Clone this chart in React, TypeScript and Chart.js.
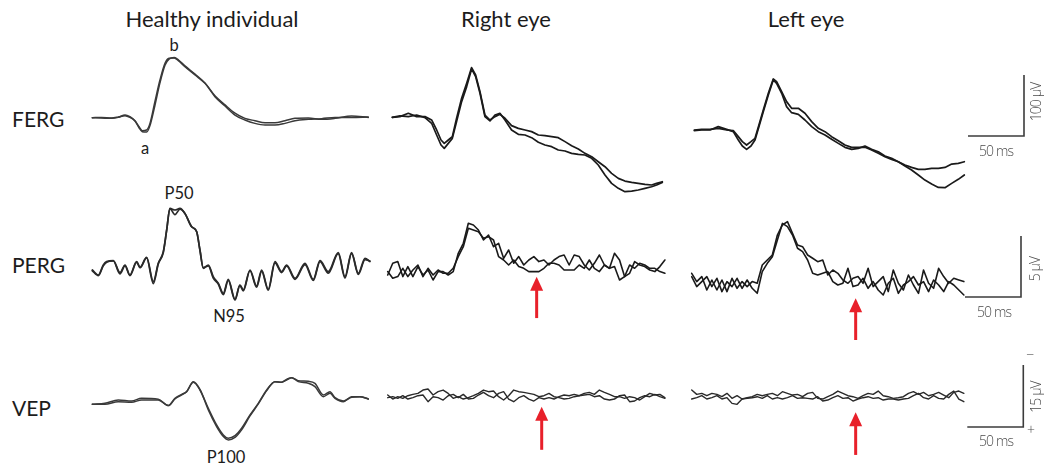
import React, { useEffect, useRef } from "react";
import { Chart, registerables } from "chart.js";
Chart.register(...registerables);

// ---------------- DATA (time in ms, amplitude in µV) ----------------
// FERG, healthy individual
const fergHealthyT = [0, 8.3, 17.3, 23.2, 29.2, 33.6, 38.1, 41.7, 44.6, 48.5, 51.5, 55.9, 60.4, 64.9, 68.5, 73.2, 76.8, 82.7, 91.7, 100.6, 109.5, 118.5, 127.4, 136.3, 145.2, 154.2, 163.1, 172, 181, 192.9, 204.8, 216.7, 231.5, 246.4];
const fergHealthyA = [0, -0.5, -1.1, 0.5, 4.4, 1.6, -4.9, -14.8, -21.3, -20.2, -9.3, 26.3, 61.8, 89.2, 97.4, 97.9, 93.5, 83.7, 70, 56.3, 34.5, 19.1, 4.4, -3.8, -9.3, -12, -12, -9.3, -4.9, -2.7, -1.6, 0.5, 0.5, 1.1];
const fergHealthyB = [0, 0.5, -0.5, 1.1, 3.3, 0.5, -5.5, -16.4, -23, -23.5, -13, 20, 57, 86, 96, 98.5, 95, 85, 71.5, 57, 36, 21, 7.5, -1.1, -4.9, -8.2, -8.2, -4.9, -1.1, -0.5, -2.7, -1.1, 2.7, 0.5];

// FERG, right eye
const fergRightT = [0, 6.8, 14.3, 21.7, 29.2, 35.1, 39.6, 43.5, 46.4, 50, 53.6, 57.4, 61.9, 66.4, 70.8, 74.4, 78.3, 82.7, 87.2, 91.7, 96.1, 100.6, 106.5, 112.5, 118.5, 124.4, 130.4, 136.3, 142.3, 148.2, 154.2, 160.1, 166.1, 172, 178, 183.9, 189.9, 195.8, 201.8, 207.7, 213.7, 219.6, 225.6, 231.5, 236, 241.1];
const fergRightA = [0, 1.1, 6.6, 1.1, 1.1, -4.4, -20.8, -37.2, -42.7, -37.2, -31.7, -1.6, 31.2, 55.8, 81.5, 69.4, 42.1, 3.8, -4.4, 1.1, 4.9, -1.6, -13.7, -18.1, -20.8, -23.5, -29, -30.1, -31.7, -33.4, -39.9, -46.5, -51.9, -59.1, -64.5, -72.8, -81, -91.9, -100.1, -104.5, -106.7, -108.3, -110, -111, -108.3, -105.6];
const fergRightB = [0, 2.2, 1.1, 3.8, -0.5, -9.8, -29, -45.4, -50.9, -42.7, -34.5, -7.1, 25.7, 50.3, 79.3, 66.7, 39.4, 1.1, -6, 3.8, 6.6, -4.4, -20.8, -27.9, -29, -33.4, -41, -45.4, -48.1, -53.6, -55.2, -59.1, -60.7, -61.8, -67.3, -78.2, -94.6, -108.3, -116.5, -122, -120.9, -119.2, -116.5, -113.8, -111, -106.7];

// FERG, left eye
const fergLeftT = [0, 6.5, 14, 21.4, 28.9, 34.8, 39.3, 42.9, 46.7, 50.6, 54.2, 57.7, 61.6, 66.1, 70.5, 73.5, 78, 82.4, 86.9, 92.9, 98.8, 104.8, 110.7, 116.7, 122.6, 128.6, 134.5, 140.5, 146.4, 152.4, 158.3, 164.3, 170.2, 176.2, 182.1, 188.1, 194, 200, 205.9, 211.9, 217.9, 223.8, 229.8, 235.7, 241.1];
const fergLeftA = [0, 1.1, 1.1, 2.7, 0, -1.1, -10.9, -19.1, -24.6, -19.1, -13.7, 8.2, 32.8, 60.2, 83.7, 79.3, 62.9, 46.5, 35.6, 35.6, 27.4, 13.7, 2.7, -2.7, -10.9, -17.5, -24.6, -28.4, -28.4, -28.4, -32.8, -38.3, -43.8, -48.1, -52, -57.4, -61.3, -64.5, -64.5, -62.9, -62.9, -61.3, -55.8, -54.7, -52];
const fergLeftB = [-1.1, 0, 0, 5.5, 1.1, -2.7, -16.4, -26.3, -31.7, -26.3, -16.4, 5.5, 30.1, 57.4, 82.1, 76.6, 60.2, 38.3, 28.4, 25.7, 16.4, 5.5, -2.7, -8.2, -15.3, -21.9, -28.4, -31.7, -30.1, -26.3, -31.7, -35.6, -42.7, -46.5, -52, -59.1, -65.6, -73.8, -82.1, -88.6, -94.1, -94.6, -87.5, -80.9, -73.8];

// PERG, healthy individual
const pergHealthyT = [0, 5.4, 9.8, 12.8, 18.8, 24.7, 29.2, 33.6, 39.6, 42.6, 48.5, 54.5, 58.9, 63.4, 66.4, 69.3, 73.8, 78.3, 82.7, 88.7, 93.2, 96.1, 99.1, 103.6, 108, 112.5, 117, 121.4, 127.4, 131.8, 134.8, 140.8, 146.7, 151.2, 157.1, 163.1, 169, 173.5, 181, 189.9, 197.3, 203.3, 210.7, 219.6, 225.6, 231.5, 237.5, 243.5, 247.9];
const pergHealthyA = [-0.14, -0.55, 0.27, 0.55, 0.63, -0.35, 0.27, -0.55, 0.55, 0.08, 0.9, -1.09, 0.41, 1.37, 3.14, 4.91, 4.78, 4.91, 4.5, 3.41, 3.0, 1.5, 0, 0.27, -0.68, -1.23, -2.05, -0.9, -2.54, -1.37, -1.77, -0.14, -1.45, -0.14, -1.72, 0.55, -0.27, 0.27, -0.82, 0.41, -0.9, 0.63, -0.27, 1.28, -0.68, 1.28, -0.41, 0.82, 0.55];
const pergHealthyB = [-0.2, -0.6, 0.2, 0.5, 0.6, -0.45, 0.2, -0.6, 0.5, 0.05, 0.85, -1.25, 0.35, 1.3, 3.1, 4.9, 4.4, 4.85, 4.5, 3.4, 3.0, 1.5, 0.05, 0.2, -0.8, -1.3, -2.15, -1.0, -2.6, -1.4, -1.85, -0.2, -1.55, -0.25, -1.8, 0.45, -0.35, 0.2, -0.9, 0.3, -1.0, 0.55, -0.4, 1.2, -0.8, 1.2, -0.5, 0.7, 0.6];

// sampling times shared by the noisy patient recordings
const noisyT = [0, 4.5, 9, 13.5, 18, 22.5, 27, 31.5, 36, 40.5, 45, 49.5, 54, 58.5, 63, 67.5, 72, 76.5, 81, 85.5, 90, 94.5, 99, 103.5, 108, 112.5, 117, 121.5, 126, 130.5, 135, 139.5, 144, 148.5, 153, 157.5, 162, 166.5, 171, 175.5, 180, 184.5, 189, 193.5, 198, 202.5, 207, 211.5, 216, 220.5, 225, 229.5, 234, 238.5, 243, 247.5];

// PERG, right eye
const pergRightA = [-0.14, 0.82, 0.96, -0.27, 0.55, -0.27, 0.55, -0.14, 0.27, -0.55, 0.14, 0.14, -0.14, 0.14, 1.64, 2.46, 4.1, 3.96, 3.55, 2.73, 3.14, 2.18, 2.46, 1.23, 1.91, 0.82, 1.37, 0.68, 1.09, 1.37, 0.96, 1.09, 0.68, 1.09, 1.37, 1.5, 0.68, 1.5, 1.37, 0.68, 0.27, 0.82, 1.5, 0.68, 0.41, 1.64, 1.09, -0.27, 0, 0.96, 0.68, 0.55, 0.27, 0.14, 0.55, 1.09];
const pergRightB = [0.14, -0.41, -0.27, 0.41, -0.27, 0.27, 0.68, -0.27, 0.41, -0.14, 0.27, 0, 0, 0.41, 1.37, 2.18, 3.69, 3.55, 3.41, 2.87, 3.0, 2.73, 1.37, 1.09, 0.68, 1.09, 0.55, 0.41, 0.14, 0.14, 0.14, 0.41, 0.82, 0.82, 0.68, 0.27, 0.27, 0.27, 0.68, 0.41, 1.09, 0.41, 0.14, 0.68, 0.41, 0.55, -0.55, -0.27, 0.68, 0.41, 0.82, 0.68, 0.41, 0.41, 0.14, 0];

// PERG, left eye
const pergLeftA = [0.82, 0.14, 0.55, -0.55, 0.27, -0.55, 0.27, -0.68, 0.41, -0.41, 0.14, -0.27, 0.14, 0, 1.5, 1.91, 2.32, 3.96, 4.78, 5.05, 4.1, 3.14, 3.0, 2.32, 2.05, 1.77, 1.91, 0.68, 1.09, 0.82, 0.27, 0, 0.41, 0.55, 0, 1.23, -0.27, 0.14, 0.55, -0.68, 1.09, 0, -0.55, 0.68, -0.14, -0.82, 1.09, 0, -0.41, 1.23, 0.55, 0, 0.41, 0.27, 0.14];
const pergLeftB = [0.55, -0.27, 0.14, 0.55, -0.27, 0.41, -0.68, 0.14, -0.27, 0.41, -0.41, 0.27, -0.41, -0.82, 0.96, 1.64, 2.18, 3.55, 4.91, 4.64, 3.96, 2.87, 2.59, 1.91, 0.82, 0.68, 0.82, 0.96, 0.14, -0.14, 0, 1.23, -0.27, -0.14, 0.41, -0.41, 0.14, -0.55, -0.96, 0, 0.41, -0.82, -0.14, 0.14, 0.55, -0.14, 0.14, -0.68, 0.27, -0.14, -0.68, 0.14, -0.14, -0.55, -0.96];

// VEP, healthy individual (positive plotted downward)
const vepHealthyT = [0, 11.3, 23.2, 35.1, 44, 58.9, 67.9, 73.8, 79.8, 84.2, 90.2, 96.1, 103.6, 111, 117, 121.4, 127.4, 133.3, 140.8, 148.2, 155.7, 163.1, 169, 173.5, 178, 183.9, 192.9, 198.8, 206.3, 212.2, 216.7, 224.1, 231.5, 239, 246.4];
const vepHealthyA = [0.24, 0, -0.81, -0.56, -1.21, -0.97, 0.56, -1.21, -2.18, -2.82, -5.08, -3.22, 1.21, 5.24, 7.66, 8.46, 7.82, 6.05, 2.82, 0, -3.22, -5.24, -5.08, -5.64, -6.21, -5.24, -4.84, -4.03, -1.61, -2.42, -1.21, -0.4, -1.61, -1.61, -1.05];
const vepHealthyB = [0.24, 0.24, -0.4, -0.24, -0.81, -0.81, 0.56, -1.05, -2.02, -2.82, -5.24, -3.38, 1.61, 5.64, 8.06, 8.87, 8.27, 6.45, 3.06, 0.16, -3.06, -5.24, -5.08, -5.8, -6.21, -5.48, -5.32, -4.84, -2.02, -2.82, -1.37, -0.56, -1.45, -1.61, -1.05];

// VEP, right eye
const vepRightA = [-0.16, 0.81, 0.24, 0.64, 0, -0.32, -0.56, -1.37, -1.61, -0.16, -0.97, -1.37, -0.56, 0.64, 0.24, 0.81, 0.48, 0, -0.56, -1.37, -0.97, -1.13, 0.24, 1.05, 0, -1.37, -0.97, -0.81, -0.56, -0.32, 0.24, 0, -0.56, 0.24, 0.48, 0.81, 0.64, 0.24, 0, -0.56, -0.81, -0.32, -1.37, -0.81, -0.32, 0.24, 0.24, 0.64, 0.24, 0.48, 1.05, 0.24, -0.56, -0.16, -0.32, 0.48];
const vepRightB = [0.48, 0.24, 0.64, 0, 0.81, 0.48, 0, -0.16, 1.45, 0.24, 0.48, 1.05, 0, -0.32, 0.48, -0.32, 0.81, 0.64, -0.16, -0.81, 0, 0.48, -0.56, -0.97, 0.81, 1.45, 0.48, 0, 0.81, 1.29, 0.48, 0.81, 0.48, 0.81, 0.24, -0.16, 0, -0.32, 0, -0.16, -0.32, 0.24, 0, 0.81, 1.05, 0.81, 0, -0.16, 1.45, 1.29, 0.48, 0, 0.24, -0.32, 0.24, 0.64];

// VEP, left eye
const vepLeftA = [-1.61, -0.56, -0.81, -0.24, -0.81, -0.56, 0, -0.81, 0.4, -0.24, 0.56, 0.24, 0, -0.56, -0.24, -0.56, -0.81, -0.24, -1.21, -0.81, -0.4, -0.56, 0, -0.81, -1.05, 0.4, 0.56, 0, -0.56, -1.37, -0.81, -0.24, 0, 0.4, -0.24, -0.81, -0.56, -1.37, -0.24, 0, 0.4, 0.24, 0, -0.81, -1.21, -0.56, -1.05, -0.24, -0.56, -1.05, -0.4, 0.24, -1.05, -1.37, -0.81];
const vepLeftB = [0.56, 0.24, -0.24, 0.56, 0.24, -0.24, 0.56, 0.24, 1.61, 1.85, 0.56, 0.4, 0.24, 0, 0.4, -0.24, 0.56, 0.24, 0.56, 0.24, -0.24, 0.4, 0.24, 0.4, 0.56, 0, 1.05, 0.81, 0.24, -0.24, 0.4, 0.24, 1.05, 0.56, 0.24, 0, 0.4, 0.24, 0.81, 0.56, 0.56, 0.81, 0.56, 0.4, -0.24, -0.81, 0.24, 0.56, -0.24, 0.4, 0.56, -0.56, -1.37, 0.56, 1.21];

// scale bars: [start, corner, end]
const scaleBarMs = [0, 50, 50];
const fergBarUv = [0, 0, 100];
const pergBarUv = [0, 0, 5];
const vepBarUv = [0, 0, 15];

// red arrows (time ms, tip µV, tail µV)
const arrowTimes = [133, 146.4, 137.5, 146.4];
const arrowTips = [-0.28, -1.23, 2.66, 3.78];
const arrowTails = [-3.67, -4.65, 13.1, 14.1];

// ---------------- LAYOUT ----------------
const PX_PER_MS = 1.12;
const FERG_PPU = 0.61; // px per µV
const PERG_PPU = 12.2;
const VEP_PPU = 4.13;

type Arrow = { t: number; tip: number; tail: number };
type PanelSpec = {
  left: number; base: number; ppu: number; reverse?: boolean;
  yMin: number; yMax: number;
  t: number[]; a: number[]; b: number[];
  smooth: boolean; color: string; width: number;
  arrow?: Arrow;
};

const arrowAt = (i: number): Arrow => ({ t: arrowTimes[i], tip: arrowTips[i], tail: arrowTails[i] });

const panels: PanelSpec[] = [
  { left: 92.3, base: 117.7, ppu: FERG_PPU, yMin: -30, yMax: 105, t: fergHealthyT, a: fergHealthyA, b: fergHealthyB, smooth: true, color: "#3a3a3a", width: 1.5 },
  { left: 392.3, base: 117.3, ppu: FERG_PPU, yMin: -125, yMax: 90, t: fergRightT, a: fergRightA, b: fergRightB, smooth: false, color: "#1a1a1a", width: 1.7 },
  { left: 694.3, base: 130, ppu: FERG_PPU, yMin: -100, yMax: 90, t: fergLeftT, a: fergLeftA, b: fergLeftB, smooth: false, color: "#1a1a1a", width: 1.7 },
  { left: 92.3, base: 268.3, ppu: PERG_PPU, yMin: -3, yMax: 5.5, t: pergHealthyT, a: pergHealthyA, b: pergHealthyB, smooth: true, color: "#2a2a2a", width: 1.7 },
  { left: 387.7, base: 273.3, ppu: PERG_PPU, yMin: -4, yMax: 4.6, t: noisyT, a: pergRightA, b: pergRightB, smooth: false, color: "#1a1a1a", width: 1.6, arrow: arrowAt(0) },
  { left: 691.7, base: 283.3, ppu: PERG_PPU, yMin: -5, yMax: 5.5, t: noisyT, a: pergLeftA, b: pergLeftB, smooth: false, color: "#1a1a1a", width: 1.6, arrow: arrowAt(1) },
  { left: 92.3, base: 403.3, ppu: VEP_PPU, reverse: true, yMin: -7, yMax: 10, t: vepHealthyT, a: vepHealthyA, b: vepHealthyB, smooth: true, color: "#3a3a3a", width: 1.5 },
  { left: 387.7, base: 395.7, ppu: VEP_PPU, reverse: true, yMin: -3, yMax: 15, t: noisyT, a: vepRightA, b: vepRightB, smooth: false, color: "#2a2a2a", width: 1.4, arrow: arrowAt(2) },
  { left: 691.7, base: 396.7, ppu: VEP_PPU, reverse: true, yMin: -3, yMax: 15, t: noisyT, a: vepLeftA, b: vepLeftB, smooth: false, color: "#2a2a2a", width: 1.4, arrow: arrowAt(3) },
];

type BarSpec = { cornerX: number; cornerY: number; ppu: number; values: number[] };
const bars: BarSpec[] = [
  { cornerX: 1024, cornerY: 136, ppu: FERG_PPU, values: fergBarUv },
  { cornerX: 1021, cornerY: 297, ppu: PERG_PPU, values: pergBarUv },
  { cornerX: 1023.3, cornerY: 427, ppu: VEP_PPU, values: vepBarUv },
];

const X_MIN_MS = -6;
const CANVAS_W = 296;

function TracePanel({ spec }: { spec: PanelSpec }) {
  const ref = useRef<HTMLCanvasElement>(null);
  const canvasLeft = Math.round(spec.left + X_MIN_MS * PX_PER_MS);
  const xMin = (canvasLeft - spec.left) / PX_PER_MS;
  const xMax = xMin + CANVAS_W / PX_PER_MS;
  const h = Math.ceil((spec.yMax - spec.yMin) * spec.ppu);
  let top: number, yLo: number, yHi: number;
  if (spec.reverse) {
    top = Math.round(spec.base + spec.yMin * spec.ppu);
    yLo = (top - spec.base) / spec.ppu;
    yHi = yLo + h / spec.ppu;
  } else {
    top = Math.round(spec.base - spec.yMax * spec.ppu);
    yHi = (spec.base - top) / spec.ppu;
    yLo = yHi - h / spec.ppu;
  }

  useEffect(() => {
    if (!ref.current) return;
    const arrow = spec.arrow;
    const arrowPlugin = {
      id: "redArrow",
      afterDatasetsDraw(chart: any) {
        if (!arrow) return;
        const ctx = chart.ctx as CanvasRenderingContext2D;
        const x = chart.scales.x.getPixelForValue(arrow.t);
        const yTip = chart.scales.y.getPixelForValue(arrow.tip);
        const yTail = chart.scales.y.getPixelForValue(arrow.tail);
        const dir = Math.sign(yTail - yTip);
        const headLen = 14;
        const half = 6.5;
        ctx.save();
        ctx.strokeStyle = "#e8202a";
        ctx.fillStyle = "#e8202a";
        ctx.lineWidth = 3;
        ctx.beginPath();
        ctx.moveTo(x, yTail);
        ctx.lineTo(x, yTip + dir * headLen * 0.8);
        ctx.stroke();
        ctx.beginPath();
        ctx.moveTo(x, yTip);
        ctx.lineTo(x - half, yTip + dir * headLen);
        ctx.lineTo(x + half, yTip + dir * headLen);
        ctx.closePath();
        ctx.fill();
        ctx.restore();
      },
    };
    const mk = (vals: number[]) => ({
      data: vals.map((y, i) => ({ x: spec.t[i], y })),
      borderColor: spec.color,
      borderWidth: spec.width,
      pointRadius: 0,
      fill: false,
      tension: spec.smooth ? 0.4 : 0,
      cubicInterpolationMode: spec.smooth ? ("monotone" as const) : ("default" as const),
      borderJoinStyle: "round" as const,
      borderCapStyle: "round" as const,
      clip: false as any,
    });
    const chart = new Chart(ref.current, {
      type: "line",
      data: { datasets: [mk(spec.a), mk(spec.b)] },
      options: {
        animation: false,
        responsive: false,
        maintainAspectRatio: false,
        events: [],
        layout: { padding: 0 },
        plugins: { legend: { display: false }, tooltip: { enabled: false } },
        scales: {
          x: { type: "linear", min: xMin, max: xMax, display: false },
          y: { type: "linear", min: yLo, max: yHi, reverse: !!spec.reverse, display: false },
        },
      },
      plugins: [arrowPlugin],
    });
    return () => chart.destroy();
  }, []);

  return (
    <canvas
      ref={ref}
      width={CANVAS_W}
      height={h}
      style={{ position: "absolute", left: canvasLeft, top, width: CANVAS_W, height: h }}
    />
  );
}

function ScaleBar({ spec }: { spec: BarSpec }) {
  const ref = useRef<HTMLCanvasElement>(null);
  const padPx = 4;
  const w = Math.round(50 * PX_PER_MS + 2 * padPx);
  const unit = spec.values[2];
  const h = Math.round(unit * spec.ppu + 2 * padPx);
  const left = Math.round(spec.cornerX - 50 * PX_PER_MS - padPx);
  const top = Math.round(spec.cornerY - unit * spec.ppu - padPx);
  const xMin = -(spec.cornerX - 50 * PX_PER_MS - left) / PX_PER_MS;
  const xMax = xMin + w / PX_PER_MS;
  const yLo = -(top + h - spec.cornerY) / spec.ppu;
  const yHi = yLo + h / spec.ppu;

  useEffect(() => {
    if (!ref.current) return;
    const chart = new Chart(ref.current, {
      type: "line",
      data: {
        datasets: [{
          data: spec.values.map((y, i) => ({ x: scaleBarMs[i], y })),
          borderColor: "#3c3c3c",
          borderWidth: 1.6,
          pointRadius: 0,
          tension: 0,
          fill: false,
        }],
      },
      options: {
        animation: false,
        responsive: false,
        maintainAspectRatio: false,
        events: [],
        plugins: { legend: { display: false }, tooltip: { enabled: false } },
        scales: {
          x: { type: "linear", min: xMin, max: xMax, display: false },
          y: { type: "linear", min: yLo, max: yHi, display: false },
        },
      },
    });
    return () => chart.destroy();
  }, []);

  return (
    <canvas ref={ref} width={w} height={h}
      style={{ position: "absolute", left, top, width: w, height: h }} />
  );
}

const MAIN_FONT = "Lato, 'Noto Sans', sans-serif";
const SCALE_FONT = "'Open Sans', 'Noto Sans', sans-serif";

function Txt({ x, y, text, size, align = "center", rotate = false, font = MAIN_FONT, color = "#1c1c1c", weight = 400, spacing = 0 }: any) {
  const tx = align === "left" ? "0" : "-50%";
  return (
    <div style={{
      position: "absolute", left: x, top: y, whiteSpace: "nowrap",
      transform: `translate(${tx}, -50%)${rotate ? " rotate(-90deg)" : ""}`,
      fontFamily: font, fontSize: size, lineHeight: 1, color, fontWeight: weight, letterSpacing: spacing,
    }}>{text}</div>
  );
}

const scaleTxt = { font: SCALE_FONT, color: "#4a4a4a", weight: 300, size: 14, spacing: -0.9 };

export default function App() {
  return (
    <div style={{ position: "absolute", left: 0, top: 0, width: 1058, height: 467, background: "#fff", overflow: "hidden" }}>
      <Txt x={212} y={19} text="Healthy individual" size={22} />
      <Txt x={506} y={19} text="Right eye" size={22} />
      <Txt x={806} y={19} text="Left eye" size={22} />

      <Txt x={12} y={118} text="FERG" size={21} align="left" />
      <Txt x={12} y={264} text="PERG" size={21} align="left" />
      <Txt x={12} y={407} text="VEP" size={21} align="left" />

      <Txt x={174} y={45} text="b" size={16.5} />
      <Txt x={145} y={148} text="a" size={16.5} />
      <Txt x={179} y={193} text="P50" size={16.5} />
      <Txt x={229} y={316} text="N95" size={16.5} />
      <Txt x={226} y={457} text="P100" size={16.5} />

      {panels.map((p, i) => <TracePanel key={i} spec={p} />)}
      {bars.map((b, i) => <ScaleBar key={i} spec={b} />)}

      <Txt x={1036} y={102} text="100 µV" rotate {...scaleTxt} />
      <Txt x={996} y={151} text="50 ms" {...scaleTxt} />
      <Txt x={1035} y={269} text="5 µV" rotate {...scaleTxt} />
      <Txt x={994} y={312} text="50 ms" {...scaleTxt} />
      <Txt x={1036} y={397} text="15 µV" rotate {...scaleTxt} />
      <Txt x={996} y={441} text="50 ms" {...scaleTxt} />
      <Txt x={1030} y={354} text="−" {...scaleTxt} spacing={0} />
      <Txt x={1031} y={430} text="+" {...scaleTxt} spacing={0} />
    </div>
  );
}
